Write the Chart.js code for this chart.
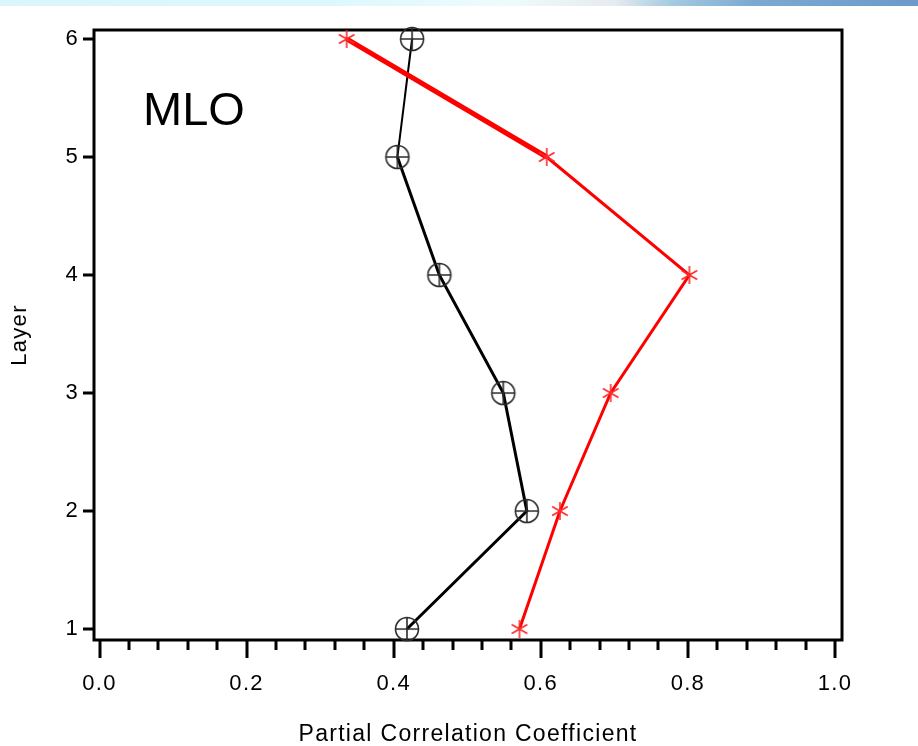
<!DOCTYPE html>
<html>
<head>
<meta charset="utf-8">
<script src="https://cdn.jsdelivr.net/npm/chart.js@4.4.1/dist/chart.umd.min.js"></script>
<style>
  html, body { margin: 0; padding: 0; background: #fff; }
  #wrap { position: relative; width: 918px; height: 746px; }
  #topbar {
    position: absolute; left: 0; top: 0; width: 918px; height: 6px;
    background: linear-gradient(to right, #d8f6fb 0%, #dcf8fc 35%, #eefbfd 55%, #e6ebf0 67%, #a6cbe0 73%, #7ba9d2 82%, #6b9acb 100%);
  }
  canvas { position: absolute; left: 0; top: 0; }
</style>
</head>
<body>
<div id="wrap">
  <div id="topbar"></div>
  <canvas id="myChart" width="918" height="746"></canvas>
</div>
<script>
// layers (y) and partial correlation coefficients (x)
let layers = [1, 2, 3, 4, 5, 6];
let blackValues = [0.418, 0.581, 0.549, 0.462, 0.405, 0.425];
let redValues = [0.571, 0.626, 0.695, 0.802, 0.608, 0.336];

let xTickValues = [0.0, 0.2, 0.4, 0.6, 0.8, 1.0];
let xTickLabels = ['0.0', '0.2', '0.4', '0.6', '0.8', '1.0'];
let xMinorTicks = [0.04, 0.08, 0.12, 0.16, 0.24, 0.28, 0.32, 0.36, 0.44, 0.48, 0.52, 0.56,
                   0.64, 0.68, 0.72, 0.76, 0.84, 0.88, 0.92, 0.96];
let yTickValues = [1, 2, 3, 4, 5, 6];
let yTickLabels = ['1', '2', '3', '4', '5', '6'];

// marker images
function circlePlus() {
    let c = document.createElement('canvas');
    c.width = 28; c.height = 28;
    let g = c.getContext('2d');
    g.strokeStyle = '#2b2b2b';
    g.lineWidth = 1.6;
    g.beginPath();
    g.arc(14, 14, 11.5, 0, Math.PI * 2);
    g.moveTo(2.5, 14); g.lineTo(25.5, 14);
    g.moveTo(14, 2.5); g.lineTo(14, 25.5);
    g.stroke();
    return c;
}
function asterisk() {
    let c = document.createElement('canvas');
    c.width = 22; c.height = 22;
    let g = c.getContext('2d');
    g.strokeStyle = '#ff2a2a';
    g.lineWidth = 1.6;
    g.beginPath();
    [90, 30, 150].forEach(a => {
        let r = a * Math.PI / 180;
        g.moveTo(11 + Math.cos(r) * 9, 11 - Math.sin(r) * 9);
        g.lineTo(11 - Math.cos(r) * 9, 11 + Math.sin(r) * 9);
    });
    g.stroke();
    return c;
}

const framePlugin = {
    id: 'frame',
    beforeDraw(chart) {
        chart.ctx.letterSpacing = '1.3px';
    },
    beforeDatasetsDraw(chart) {
        let ctx = chart.ctx;
        let a = chart.chartArea;
        let xs = chart.scales.x, ys = chart.scales.y;
        ctx.save();
        ctx.strokeStyle = '#000';
        ctx.lineWidth = 3;
        ctx.beginPath();
        xTickValues.forEach(v => {
            let px = Math.round(xs.getPixelForValue(v));
            ctx.moveTo(px, a.bottom); ctx.lineTo(px, a.bottom + 18);
        });
        xMinorTicks.forEach(v => {
            let px = Math.round(xs.getPixelForValue(v));
            ctx.moveTo(px, a.bottom); ctx.lineTo(px, a.bottom + 10);
        });
        yTickValues.forEach(v => {
            let py = Math.round(ys.getPixelForValue(v));
            ctx.moveTo(a.left - 11, py); ctx.lineTo(a.left, py);
        });
        ctx.stroke();
        ctx.strokeRect(a.left, a.top, a.right - a.left, a.bottom - a.top);
        ctx.restore();
    },
    afterDraw(chart) {
        let ctx = chart.ctx;
        ctx.save();
        ctx.letterSpacing = '0px';
        ctx.font = '47px "Liberation Sans"';
        ctx.fillStyle = '#000';
        ctx.textBaseline = 'alphabetic';
        ctx.fillText('MLO', 143, 125);
        ctx.restore();
    }
};

Chart.defaults.font.family = '"Liberation Sans", Arial, sans-serif';
Chart.defaults.color = '#000';

var ctx = document.getElementById('myChart').getContext('2d');
var myChart = new Chart(ctx, {
    type: 'line',
    data: {
        datasets: [{
            label: 'red',
            data: layers.map((l, i) => ({x: redValues[i], y: l})),
            borderColor: '#ff0000',
            borderWidth: 3,
            segment: {
                borderWidth: c => c.p1DataIndex === 5 ? 5 : 3
            },
            pointStyle: asterisk(),
            tension: 0,
            clip: false
        }, {
            label: 'black',
            data: layers.map((l, i) => ({x: blackValues[i], y: l})),
            borderColor: '#000',
            borderWidth: 3,
            segment: {
                borderWidth: c => c.p1DataIndex === 5 ? 2 : 3
            },
            pointStyle: circlePlus(),
            tension: 0,
            clip: false
        }]
    },
    options: {
        responsive: false,
        animation: false,
        devicePixelRatio: 1,
        layout: { padding: { left: 0, top: 30, right: 76, bottom: 0 } },
        plugins: {
            legend: { display: false },
            tooltip: { enabled: false }
        },
        scales: {
            x: {
                type: 'linear',
                min: -0.0075,
                max: 1.0095,
                grid: { display: false, drawTicks: false },
                border: { display: false },
                afterBuildTicks: axis => { axis.ticks = xTickValues.map(v => ({value: v})); },
                afterFit: axis => { axis.height = 106; },
                ticks: {
                    autoSkip: false,
                    maxRotation: 0,
                    padding: 31,
                    font: { size: 22 },
                    callback: (val, i) => xTickLabels[i]
                },
                title: {
                    display: true,
                    text: 'Partial Correlation Coefficient',
                    font: { size: 23, lineHeight: 1.0 },
                    padding: { top: 0, bottom: 0 }
                }
            },
            y: {
                type: 'linear',
                min: 0.907,
                max: 6.076,
                grid: { display: false, drawTicks: false },
                border: { display: false },
                afterBuildTicks: axis => { axis.ticks = yTickValues.map(v => ({value: v})); },
                afterFit: axis => { axis.width = 94; },
                ticks: {
                    autoSkip: false,
                    padding: 15,
                    font: { size: 22 },
                    callback: (val, i) => yTickLabels[i]
                },
                title: {
                    display: true,
                    text: 'Layer',
                    font: { size: 22, lineHeight: 1.2 },
                    padding: { top: 7, bottom: 0 }
                }
            }
        }
    },
    plugins: [framePlugin]
});
</script>
</body>
</html>
